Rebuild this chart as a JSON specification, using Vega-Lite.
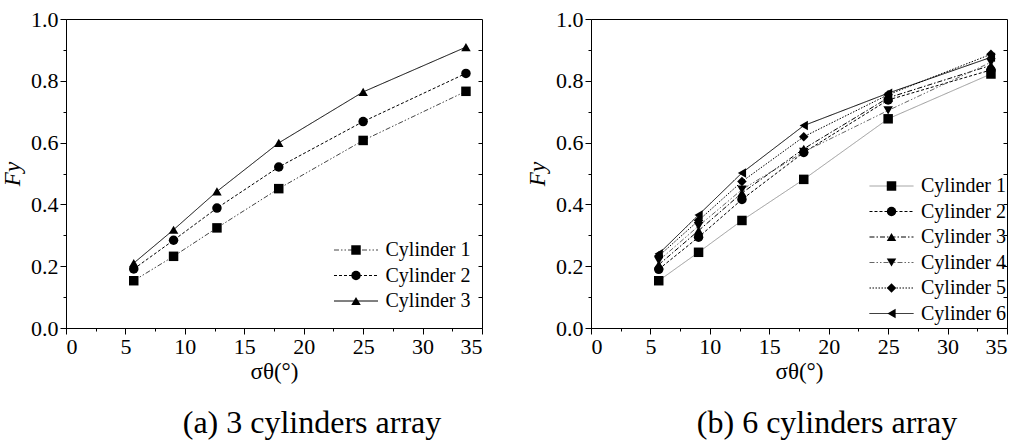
{
  "$schema": "https://vega.github.io/schema/vega-lite/v6.json",
  "background": "white",
  "padding": {"left": 1, "top": 7, "right": 0, "bottom": 0},
  "spacing": 43,
  "resolve": {
    "scale": {"color": "independent", "strokeDash": "independent", "shape": "independent"},
    "legend": {"color": "independent", "strokeDash": "independent", "shape": "independent"}
  },
  "config": {
    "font": "Liberation Serif",
    "view": {"stroke": "black", "strokeWidth": 1},
    "axis": {"domainColor": "black", "tickColor": "black", "labelColor": "black", "titleColor": "black", "grid": false, "labelFont": "Liberation Serif", "titleFont": "Liberation Serif", "labelFontSize": 22, "titleFontSize": 23, "titleFontWeight": "normal"},
    "legend": {"labelFont": "Liberation Serif", "labelFontSize": 20, "padding": 0},
    "title": {"font": "Liberation Serif"}
  },
  "datasets": {
    "left": [
      {"cyl": "Cylinder 1", "sigma": 5.7, "Fy": 0.153},
      {"cyl": "Cylinder 1", "sigma": 9.05, "Fy": 0.232},
      {"cyl": "Cylinder 1", "sigma": 12.7, "Fy": 0.324},
      {"cyl": "Cylinder 1", "sigma": 17.9, "Fy": 0.451},
      {"cyl": "Cylinder 1", "sigma": 25.0, "Fy": 0.607},
      {"cyl": "Cylinder 1", "sigma": 33.65, "Fy": 0.766},
      {"cyl": "Cylinder 2", "sigma": 5.7, "Fy": 0.191},
      {"cyl": "Cylinder 2", "sigma": 9.05, "Fy": 0.284},
      {"cyl": "Cylinder 2", "sigma": 12.7, "Fy": 0.388},
      {"cyl": "Cylinder 2", "sigma": 17.9, "Fy": 0.521},
      {"cyl": "Cylinder 2", "sigma": 25.0, "Fy": 0.668},
      {"cyl": "Cylinder 2", "sigma": 33.65, "Fy": 0.824},
      {"cyl": "Cylinder 3", "sigma": 5.7, "Fy": 0.210},
      {"cyl": "Cylinder 3", "sigma": 9.05, "Fy": 0.318},
      {"cyl": "Cylinder 3", "sigma": 12.7, "Fy": 0.442},
      {"cyl": "Cylinder 3", "sigma": 17.9, "Fy": 0.599},
      {"cyl": "Cylinder 3", "sigma": 25.0, "Fy": 0.764},
      {"cyl": "Cylinder 3", "sigma": 33.65, "Fy": 0.909}
    ],
    "right": [
      {"cyl": "Cylinder 1", "sigma": 5.7, "Fy": 0.153},
      {"cyl": "Cylinder 1", "sigma": 9.05, "Fy": 0.245},
      {"cyl": "Cylinder 1", "sigma": 12.7, "Fy": 0.348},
      {"cyl": "Cylinder 1", "sigma": 17.9, "Fy": 0.481},
      {"cyl": "Cylinder 1", "sigma": 25.0, "Fy": 0.677},
      {"cyl": "Cylinder 1", "sigma": 33.65, "Fy": 0.822},
      {"cyl": "Cylinder 2", "sigma": 5.7, "Fy": 0.190},
      {"cyl": "Cylinder 2", "sigma": 9.05, "Fy": 0.294},
      {"cyl": "Cylinder 2", "sigma": 12.7, "Fy": 0.416},
      {"cyl": "Cylinder 2", "sigma": 17.9, "Fy": 0.568},
      {"cyl": "Cylinder 2", "sigma": 25.0, "Fy": 0.738},
      {"cyl": "Cylinder 2", "sigma": 33.65, "Fy": 0.835},
      {"cyl": "Cylinder 3", "sigma": 5.7, "Fy": 0.205},
      {"cyl": "Cylinder 3", "sigma": 9.05, "Fy": 0.315},
      {"cyl": "Cylinder 3", "sigma": 12.7, "Fy": 0.437},
      {"cyl": "Cylinder 3", "sigma": 17.9, "Fy": 0.580},
      {"cyl": "Cylinder 3", "sigma": 25.0, "Fy": 0.745},
      {"cyl": "Cylinder 3", "sigma": 33.65, "Fy": 0.850},
      {"cyl": "Cylinder 4", "sigma": 5.7, "Fy": 0.218},
      {"cyl": "Cylinder 4", "sigma": 9.05, "Fy": 0.330},
      {"cyl": "Cylinder 4", "sigma": 12.7, "Fy": 0.448},
      {"cyl": "Cylinder 4", "sigma": 17.9, "Fy": 0.570},
      {"cyl": "Cylinder 4", "sigma": 25.0, "Fy": 0.704},
      {"cyl": "Cylinder 4", "sigma": 33.65, "Fy": 0.860},
      {"cyl": "Cylinder 5", "sigma": 5.7, "Fy": 0.233},
      {"cyl": "Cylinder 5", "sigma": 9.05, "Fy": 0.348},
      {"cyl": "Cylinder 5", "sigma": 12.7, "Fy": 0.474},
      {"cyl": "Cylinder 5", "sigma": 17.9, "Fy": 0.619},
      {"cyl": "Cylinder 5", "sigma": 25.0, "Fy": 0.755},
      {"cyl": "Cylinder 5", "sigma": 33.65, "Fy": 0.886},
      {"cyl": "Cylinder 6", "sigma": 5.7, "Fy": 0.240},
      {"cyl": "Cylinder 6", "sigma": 9.05, "Fy": 0.366},
      {"cyl": "Cylinder 6", "sigma": 12.7, "Fy": 0.502},
      {"cyl": "Cylinder 6", "sigma": 17.9, "Fy": 0.655},
      {"cyl": "Cylinder 6", "sigma": 25.0, "Fy": 0.760},
      {"cyl": "Cylinder 6", "sigma": 33.65, "Fy": 0.876}
    ]
  },
  "hconcat": [
    {
      "width": 416,
      "height": 309,
      "data": {"name": "left"},
      "title": {"text": "(a) 3 cylinders array", "orient": "bottom", "anchor": "middle", "frame": "group", "dx": 38, "offset": 25, "fontSize": 32, "fontWeight": "normal", "color": "black"},
      "resolve": {"axis": {"x": "independent", "y": "independent"}},
      "layer": [
        {
          "mark": {"type": "line", "strokeWidth": 1},
          "encoding": {
            "x": {"field": "sigma", "type": "quantitative", "scale": {"domain": [0, 35], "nice": false, "zero": false},
                  "axis": {"orient": "bottom", "values": [0, 5, 10, 15, 20, 25, 30, 35], "tickSize": 6, "labelPadding": 2, "title": "σθ(°)", "titlePadding": 3}},
            "y": {"field": "Fy", "type": "quantitative", "scale": {"domain": [0, 1], "nice": false},
                  "axis": {"orient": "left", "values": [0, 0.2, 0.4, 0.6, 0.8, 1.0], "format": ".1f", "tickSize": 6, "labelPadding": 2, "title": "Fy", "titleFontStyle": "italic", "titlePadding": 6}},
            "color": {"field": "cyl", "type": "nominal",
                      "scale": {"domain": ["Cylinder 1", "Cylinder 2", "Cylinder 3"], "range": ["#444444", "#000000", "#000000"]},
                      "legend": {"orient": "none", "legendX": 280, "legendY": 221, "title": null, "symbolType": "M-4.64,0H4.64", "symbolSize": 90, "symbolStrokeWidth": 1, "labelOpacity": 0, "rowPadding": 5.5, "labelOffset": 19.5}},
            "strokeDash": {"field": "cyl", "type": "nominal",
                      "scale": {"domain": ["Cylinder 1", "Cylinder 2", "Cylinder 3"], "range": [[5, 2, 1.5, 2, 1.5, 2], [3, 2], [1, 0]]},
                      "legend": {"orient": "none", "legendX": 280, "legendY": 221, "title": null, "symbolType": "M-4.64,0H4.64", "symbolSize": 90, "symbolStrokeWidth": 1, "labelOpacity": 0, "rowPadding": 5.5, "labelOffset": 19.5}}
          }
        },
        {
          "mark": {"type": "point", "filled": true, "size": 90, "color": "black", "opacity": 1},
          "encoding": {
            "x": {"field": "sigma", "type": "quantitative", "axis": {"orient": "bottom", "values": [2.5, 7.5, 12.5, 17.5, 22.5, 27.5, 32.5], "tickSize": 3, "labels": false, "domain": false, "title": null}},
            "y": {"field": "Fy", "type": "quantitative", "axis": {"orient": "left", "values": [0.1, 0.3, 0.5, 0.7, 0.9], "tickSize": 3, "labels": false, "domain": false, "title": null}},
            "shape": {"field": "cyl", "type": "nominal",
                      "scale": {"range": ["square", "circle", "triangle-up"]},
                      "legend": {"orient": "none", "legendX": 280, "legendY": 221, "title": null, "symbolSize": 90, "symbolFillColor": "black", "symbolStrokeColor": "black", "symbolStrokeWidth": 1, "labelColor": "black", "rowPadding": 5.5, "labelOffset": 19.5}}
          }
        },
        {
          "mark": {"type": "point", "opacity": 0},
          "encoding": {
            "x": {"field": "sigma", "type": "quantitative", "axis": null},
            "y": {"field": "Fy", "type": "quantitative", "axis": {"orient": "right", "values": [0.1, 0.2, 0.3, 0.4, 0.5, 0.6, 0.7, 0.8, 0.9], "tickSize": -4, "labels": false, "domain": false, "title": null}}
          }
        }
      ]
    },
    {
      "width": 416,
      "height": 309,
      "data": {"name": "right"},
      "title": {"text": "(b) 6 cylinders array", "orient": "bottom", "anchor": "middle", "frame": "group", "dx": 28, "offset": 25, "fontSize": 32, "fontWeight": "normal", "color": "black"},
      "resolve": {"axis": {"x": "independent", "y": "independent"}},
      "layer": [
        {
          "mark": {"type": "line", "strokeWidth": 1},
          "encoding": {
            "x": {"field": "sigma", "type": "quantitative", "scale": {"domain": [0, 35], "nice": false, "zero": false},
                  "axis": {"orient": "bottom", "values": [0, 5, 10, 15, 20, 25, 30, 35], "tickSize": 6, "labelPadding": 2, "title": "σθ(°)", "titlePadding": 3}},
            "y": {"field": "Fy", "type": "quantitative", "scale": {"domain": [0, 1], "nice": false},
                  "axis": {"orient": "left", "values": [0, 0.2, 0.4, 0.6, 0.8, 1.0], "format": ".1f", "tickSize": 6, "labelPadding": 2, "title": "Fy", "titleFontStyle": "italic", "titlePadding": 6}},
            "color": {"field": "cyl", "type": "nominal",
                      "scale": {"domain": ["Cylinder 1", "Cylinder 2", "Cylinder 3", "Cylinder 4", "Cylinder 5", "Cylinder 6"], "range": ["#9a9a9a", "#000000", "#000000", "#666666", "#000000", "#000000"]},
                      "legend": {"orient": "none", "legendX": 290.5, "legendY": 157, "title": null, "symbolType": "M-4.64,0H4.64", "symbolSize": 90, "symbolStrokeWidth": 1, "labelOpacity": 0, "rowPadding": 5.5, "labelOffset": 19.5}},
            "strokeDash": {"field": "cyl", "type": "nominal",
                      "scale": {"domain": ["Cylinder 1", "Cylinder 2", "Cylinder 3", "Cylinder 4", "Cylinder 5", "Cylinder 6"], "range": [[1, 0], [3, 2], [5, 2, 1.5, 2], [5, 2, 1.5, 2, 1.5, 2], [1.5, 1.5], [1, 0]]},
                      "legend": {"orient": "none", "legendX": 290.5, "legendY": 157, "title": null, "symbolType": "M-4.64,0H4.64", "symbolSize": 90, "symbolStrokeWidth": 1, "labelOpacity": 0, "rowPadding": 5.5, "labelOffset": 19.5}}
          }
        },
        {
          "mark": {"type": "point", "filled": true, "size": 90, "color": "black", "opacity": 1},
          "encoding": {
            "x": {"field": "sigma", "type": "quantitative", "axis": {"orient": "bottom", "values": [2.5, 7.5, 12.5, 17.5, 22.5, 27.5, 32.5], "tickSize": 3, "labels": false, "domain": false, "title": null}},
            "y": {"field": "Fy", "type": "quantitative", "axis": {"orient": "left", "values": [0.1, 0.3, 0.5, 0.7, 0.9], "tickSize": 3, "labels": false, "domain": false, "title": null}},
            "shape": {"field": "cyl", "type": "nominal",
                      "scale": {"range": ["square", "circle", "triangle-up", "triangle-down", "diamond", "triangle-left"]},
                      "legend": {"orient": "none", "legendX": 290.5, "legendY": 157, "title": null, "symbolSize": 90, "symbolFillColor": "black", "symbolStrokeColor": "black", "symbolStrokeWidth": 1, "labelColor": "black", "rowPadding": 5.5, "labelOffset": 19.5}}
          }
        },
        {
          "mark": {"type": "point", "opacity": 0},
          "encoding": {
            "x": {"field": "sigma", "type": "quantitative", "axis": null},
            "y": {"field": "Fy", "type": "quantitative", "axis": {"orient": "right", "values": [0.1, 0.2, 0.3, 0.4, 0.5, 0.6, 0.7, 0.8, 0.9], "tickSize": -4, "labels": false, "domain": false, "title": null}}
          }
        }
      ]
    }
  ]
}
